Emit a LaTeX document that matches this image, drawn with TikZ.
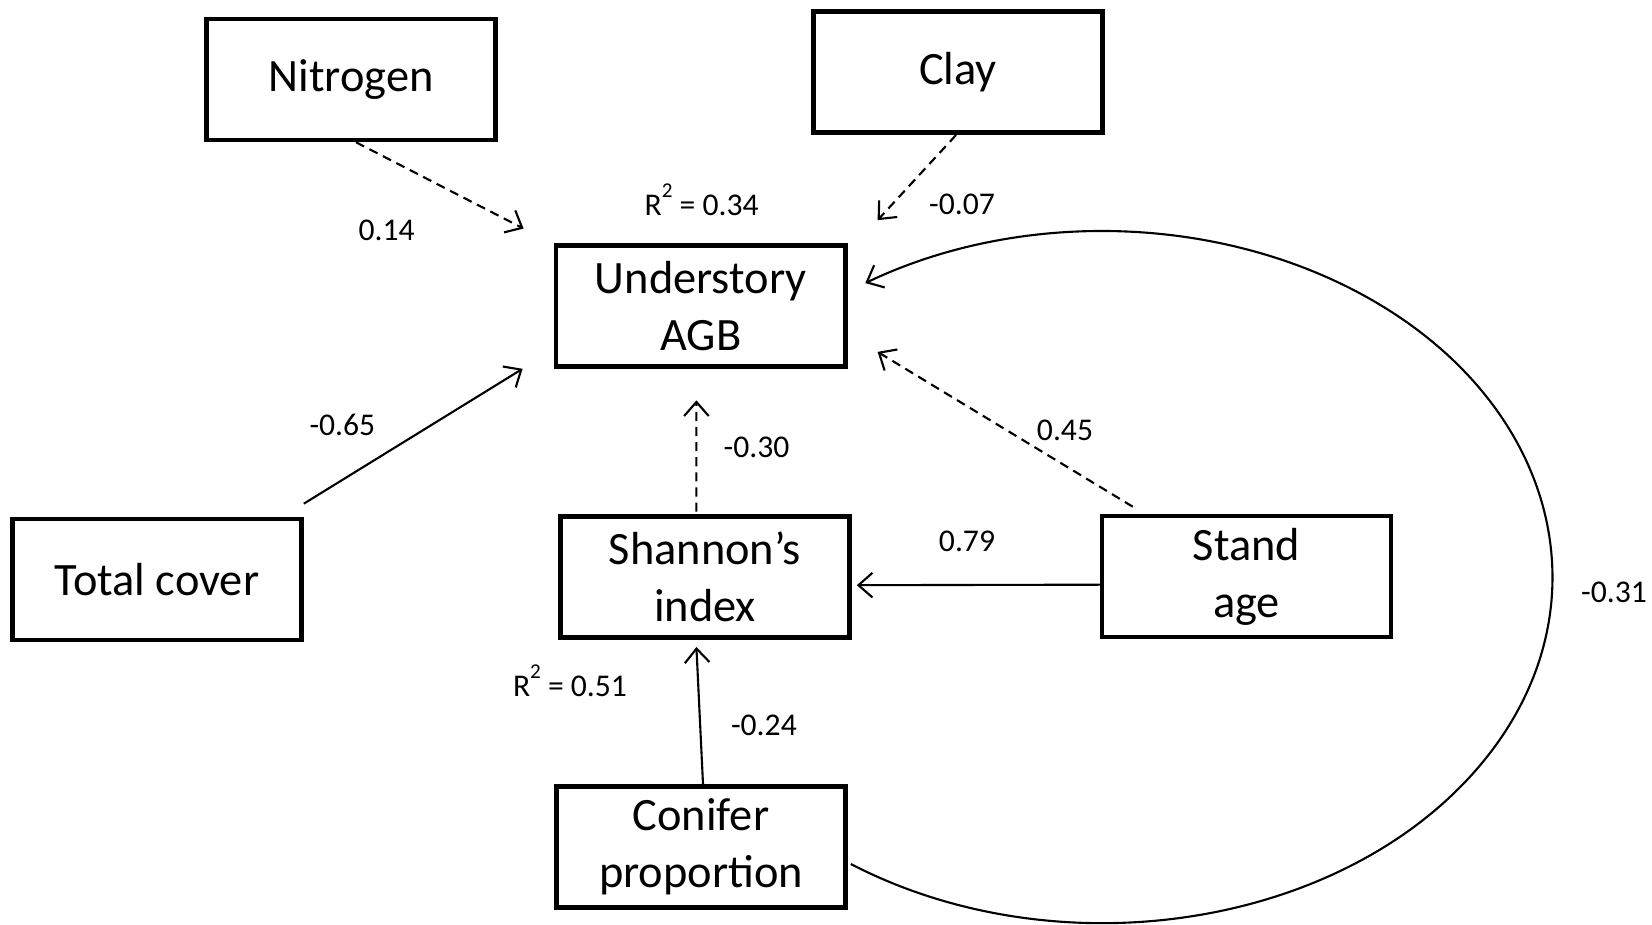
\documentclass[tikz,border=0pt]{standalone}
\usepackage{fontspec}
\setmainfont{Carlito}
\usetikzlibrary{arrows.meta}

\newcommand{\rsq}{R\raisebox{1.2ex}{\fontsize{6}{6}\selectfont 2}}

\begin{document}
\begin{tikzpicture}[
  box/.style={draw,line width=1.3pt,minimum width=2.89cm,minimum height=1.21cm,
    align=center,inner sep=1pt,font=\fontsize{13.2}{16.2}\selectfont},
  coef/.style={font=\fontsize{9}{11}\selectfont},
  solidarr/.style={-{Straight Barb[length=4pt,width=7pt]},line width=0.6pt},
  dasharr/.style={solidarr,dash pattern=on 2.6pt off 1.7pt}]
  \useasboundingbox (0,0) rectangle (16.52,9.25);

  % variables
  \node[box] (nit) at (3.51,8.455) {Nitrogen};
  \node[box] (clay) at (9.58,8.527) {Clay};
  \node[box] (agb) at (7.007,6.19) {Understory\\AGB};
  \node[box] (tot) at (1.57,3.455) {Total cover};
  \node[box] (shan) at (7.05,3.48) {Shannon’s\\index};
  \node[box] (stand) at (12.465,3.485) {Stand\\age};
  \node[box] (con) at (7.01,0.78) {Conifer\\proportion};

  % arrow ends
  \coordinate (nitend) at (5.236,6.964);
  \coordinate (clayend) at (8.776,7.048);
  \coordinate (totend) at (5.226,5.562);
  \coordinate (shanend) at (6.964,5.246);
  \coordinate (standend) at (8.776,5.731);
  \coordinate (conend) at (6.964,2.78);

  % paths
  \draw[dasharr] ([xshift=0.5mm]nit.south) -- (nitend);
  \draw[dasharr] ([xshift=-0.2mm]clay.south) -- (clayend);
  \draw[solidarr] ([yshift=1.3mm]tot.north east) -- (totend);
  \draw[dasharr] ([xshift=-0.86mm,yshift=0.25mm]shan.north) -- (shanend);
  \draw[dasharr] ([xshift=3.3mm,yshift=0.7mm]stand.north west) -- (standend);
  \draw[solidarr] ([xshift=0.4mm,yshift=-0.82mm]stand.west) -- ([xshift=0.5mm,yshift=-0.82mm]shan.east);
  \draw[solidarr] ([xshift=0.2mm]con.north) -- (conend);
  \draw[solidarr] ([shift={(0.03,-0.17)}]con.east) arc[start angle=236,end angle=481.8,x radius=4.5,y radius=3.46];

  % coefficients
  \node[coef] (c1) at (3.867,6.943) {0.14};
  \node[coef] (r1) at (7.017,7.25) {\rsq\ = 0.34};
  \node[coef] (c2) at (9.62,7.206) {-0.07};
  \node[coef] (c3) at (3.424,5.004) {-0.65};
  \node[coef] (c4) at (7.565,4.772) {-0.30};
  \node[coef] (c5) at (10.65,4.95) {0.45};
  \node[coef] (c6) at (9.67,3.835) {0.79};
  \node[coef] (c7) at (16.14,3.33) {-0.31};
  \node[coef] (r2) at (5.70,2.44) {\rsq\ = 0.51};
  \node[coef] (c8) at (7.639,2.0) {-0.24};
\end{tikzpicture}
\end{document}
